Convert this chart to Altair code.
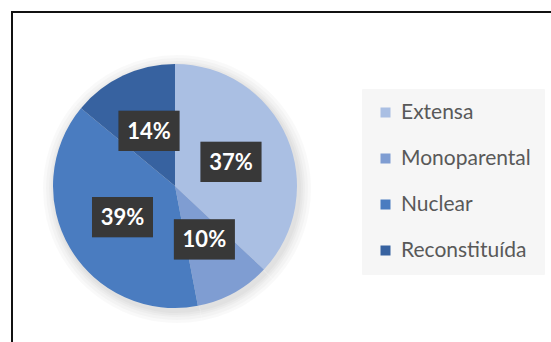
import altair as alt
import pandas as pd

categories = ["Extensa", "Monoparental", "Nuclear", "Reconstituída"]
values = [37, 10, 39, 14]
colors = ["#aabfe3", "#7f9dd2", "#4a7cc0", "#3762a0"]

df = pd.DataFrame({"cat": categories, "value": values, "ord": list(range(len(categories)))})

CX, CY, R, LR = 175, 186, 122, 61
W, H = 551, 342

base = alt.Chart(df)

color_enc = alt.Color("cat:N", sort=categories,
                      scale=alt.Scale(domain=categories, range=colors),
                      legend=alt.Legend(title=None, orient="none", legendX=362, legendY=89,
                                        symbolType="square", symbolSize=100,
                                        symbolStrokeWidth=0,
                                        labelFont="Lato", labelFontSize=21,
                                        labelColor="#595959", labelOffset=5,
                                        rowPadding=24, padding=13,
                                        fillColor="#f6f6f6", strokeColor="#f6f6f6"))

# soft shadow around the pie
shadow = alt.layer(*[
    base.mark_arc(radius=R + d, fill="#000000", opacity=0.025).encode(
        theta=alt.Theta("value:Q", stack=True),
        x=alt.value(CX + 2), y=alt.value(CY + 3))
    for d in (12, 9, 6, 4, 2)
])

pie = base.mark_arc(radius=R, stroke=None).encode(
    theta=alt.Theta("value:Q", stack=True),
    order=alt.Order("ord:Q"),
    color=color_enc,
    x=alt.value(CX), y=alt.value(CY),
)

pos = base.transform_window(
    cum="sum(value)", sort=[alt.SortField("ord")], frame=[None, 0]
).transform_joinaggregate(total="sum(value)").transform_calculate(
    ang="2*PI*(datum.cum - datum.value/2)/datum.total",
    lx=f"{CX} + {LR}*sin(datum.ang)",
    ly=f"{CY} - {LR}*cos(datum.ang)",
    lbl="datum.value + '%'",
)

xs = alt.X("lx:Q", scale=alt.Scale(domain=[0, W], range=[0, W], nice=False, zero=False), axis=None)
ys = alt.Y("ly:Q", scale=alt.Scale(domain=[0, H], range=[0, H], nice=False, zero=False), axis=None)

box_path = "M-1,-0.66L1,-0.66L1,0.66L-1,0.66Z"

box_shadow = pos.mark_point(shape=box_path, size=3721, filled=True, fill="#000000",
                            opacity=0.22, dx=3, dy=3, strokeWidth=0).encode(x=xs, y=ys)
boxes = pos.mark_point(shape=box_path, size=3721, filled=True, fill="#383838",
                       opacity=1, strokeWidth=0).encode(x=xs, y=ys)
labels = pos.mark_text(font="Lato", fontSize=22, fontWeight="bold", color="#ffffff",
                       baseline="middle", align="center", dy=1).encode(
    x=xs, y=ys, text="lbl:N")

border_left = base.mark_rule(color="#111111", strokeWidth=2).encode(
    x=alt.value(12), y=alt.value(11), y2=alt.value(H))
border_top = base.mark_rule(color="#111111", strokeWidth=2).encode(
    x=alt.value(11), x2=alt.value(W), y=alt.value(12))

chart = alt.layer(shadow, pie, box_shadow, boxes, labels, border_left, border_top).resolve_scale(
    color="independent"
).properties(
    width=W, height=H, padding=0, autosize=alt.AutoSizeParams(type="none"), background="#ffffff"
).configure_view(strokeWidth=0)

chart.save("out.html", embed_options={"renderer": "svg", "actions": False})
